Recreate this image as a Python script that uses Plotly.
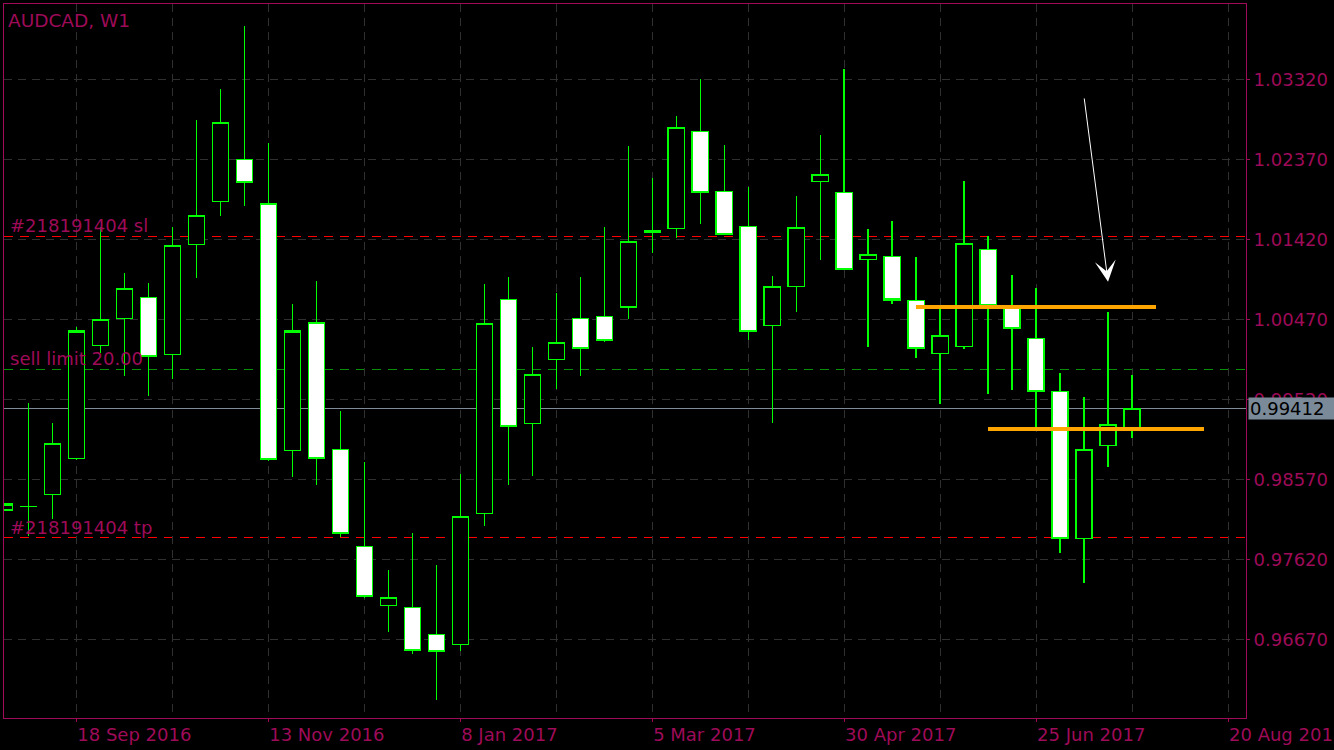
import plotly.graph_objects as go
import pandas as pd

# ---------------- data ----------------
chart_title = "AUDCAD, W1"
week_start = "2016-08-28"
n_weeks = 48
dates = pd.date_range(week_start, periods=n_weeks, freq="7D")

open_ = [0.98205, 0.98245, 0.98392, 0.98815, 1.00157, 1.00477, 1.00731, 1.00054,
         1.01361, 1.01871, 1.02370, 1.01839, 0.98910, 1.00426, 0.98926, 0.97774,
         0.97074, 0.97050, 0.96729, 0.96611, 0.98166, 1.00708, 0.99235, 0.99995,
         1.00482, 1.00506, 1.00616, 1.01503, 1.01551, 1.02703, 1.01990, 1.01574,
         1.00399, 1.00862, 1.02109, 1.01978, 1.01183, 1.01218, 1.00696, 1.00066,
         1.00145, 1.01301, 1.00604, 1.00240, 0.99615, 0.97869, 0.98974, 0.99167]
high = [0.98289, 0.99473, 0.99239, 1.00375, 1.01566, 1.01016, 1.00898, 1.01563,
        1.02837, 1.03205, 1.03953, 1.02560, 1.00652, 1.00925, 0.99381, 0.98775,
        0.97493, 0.97932, 0.97552, 0.98633, 1.00889, 1.00972, 1.00141, 1.00782,
        1.00972, 1.01563, 1.02528, 1.02148, 1.02884, 1.03324, 1.02540, 1.02041,
        1.00984, 1.01934, 1.02659, 1.03442, 1.01542, 1.01637, 1.01210, 1.00640,
        1.02112, 1.01459, 1.00993, 1.00842, 0.99832, 0.99547, 1.00553, 0.99809]
low = [0.98194, 0.97900, 0.98099, 0.98799, 1.00073, 0.99800, 0.99563, 0.99758,
       1.00964, 1.01700, 1.01819, 0.98787, 0.98601, 0.98502, 0.97881, 0.97164,
       0.96760, 0.96499, 0.95953, 0.96535, 0.98019, 0.98506, 0.98613, 0.99639,
       0.99800, 1.00206, 1.00477, 1.01261, 1.01439, 1.01605, 1.01471, 1.00228,
       0.99242, 1.00560, 1.01178, 1.01055, 1.00145, 1.00655, 1.00014, 0.99464,
       1.00117, 0.99587, 0.99634, 0.99167, 0.97698, 0.97342, 0.98720, 0.99064]
close = [0.98277, 0.98246, 0.98998, 1.00331, 1.00470, 1.00838, 1.00026, 1.01344,
         1.01705, 1.02809, 1.02097, 0.98803, 1.00331, 0.98815, 0.97924, 0.97181,
         0.97169, 0.96539, 0.96528, 0.98131, 1.00423, 0.99199, 0.99817, 1.00197,
         1.00126, 1.00221, 1.01396, 1.01527, 1.02750, 1.01978, 1.01479, 1.00328,
         1.00862, 1.01563, 1.02192, 1.01064, 1.01242, 1.00699, 1.00126, 1.00280,
         1.01373, 1.00634, 1.00358, 0.99615, 0.97869, 0.98926, 0.99223, 0.99412]

x_tick_vals = ["2016-09-18", "2016-11-13", "2017-01-08", "2017-03-05",
               "2017-04-30", "2017-06-25", "2017-08-20"]
x_tick_text = ["18 Sep 2016", "13 Nov 2016", "8 Jan 2017", "5 Mar 2017",
               "30 Apr 2017", "25 Jun 2017", "20 Aug 2017"]
y_tick_vals = [0.96670, 0.97620, 0.98570, 0.99520, 1.00470, 1.01420, 1.02370, 1.03320]

x_range = ["2016-08-27 22:00", "2017-08-25 06:00"]
y_range = [0.957354, 1.042142]

sl_level = 1.01456
tp_level = 0.97877
sell_limit_level = 0.99876
bid_level = 0.99412
sl_label = "#218191404 sl"
tp_label = "#218191404 tp"
sell_limit_label = "sell limit 20.00"

orange_levels = [1.00616, 0.99171]
orange_starts = ["2017-05-21", "2017-06-11"]
orange_ends = ["2017-07-30", "2017-08-13"]

arrow_tail = ("2017-07-09", 1.03110)
arrow_tip = ("2017-07-16", 1.00917)

# ---------------- style ----------------
CRIMSON = "#9E0B58"
GRID = "#303030"
GREEN = "#00FF00"
FONT = "DejaVu Sans"

fig = go.Figure(go.Candlestick(
    x=dates, open=open_, high=high, low=low, close=close,
    increasing=dict(line=dict(color=GREEN, width=1.2), fillcolor="#000000"),
    decreasing=dict(line=dict(color=GREEN, width=1.2), fillcolor="#FFFFFF"),
    whiskerwidth=0, hoverinfo="skip", showlegend=False,
))

fig.update_layout(
    width=1334, height=750,
    margin=dict(l=4, r=88, t=4, b=32),
    paper_bgcolor="#000000", plot_bgcolor="#000000",
    boxgap=0.33, boxgroupgap=0, showlegend=False, hovermode=False,
    font=dict(family=FONT, size=18, color=CRIMSON),
)

fig.update_xaxes(
    type="date", range=x_range, rangeslider_visible=False,
    tickmode="array", tickvals=x_tick_vals, ticktext=x_tick_text,
    ticks="outside", ticklen=3, tickcolor=CRIMSON, tickwidth=1,
    ticklabelposition="outside right", ticklabeloverflow="allow",
    tickfont=dict(family=FONT, size=18, color=CRIMSON),
    showline=True, linecolor=CRIMSON, linewidth=1, mirror=True,
    showgrid=True, gridcolor=GRID, gridwidth=1, griddash="8px,6px",
    minor=dict(tickmode="linear", tick0="2016-08-21", dtick=28 * 86400000,
               showgrid=True, gridcolor=GRID, gridwidth=1, griddash="8px,6px", ticks=""),
    zeroline=False, automargin=False, fixedrange=True,
)

fig.update_yaxes(
    side="right", range=y_range,
    tickmode="array", tickvals=y_tick_vals, tickformat=".5f",
    ticks="outside", ticklen=3, tickcolor=CRIMSON, tickwidth=1,
    tickfont=dict(family=FONT, size=18, color=CRIMSON),
    showline=True, linecolor=CRIMSON, linewidth=1, mirror=True,
    showgrid=True, gridcolor=GRID, gridwidth=1, griddash="8px,6px",
    zeroline=False, automargin=False, fixedrange=True,
)

# horizontal order / price lines (under candles)
def hline(level, color, dash, width=1.0):
    fig.add_shape(type="line", xref="paper", x0=0, x1=1, yref="y", y0=level, y1=level,
                  line=dict(color=color, width=width, dash=dash), layer="between")

hline(sl_level, "#FF0000", "9px,7px", 1.3)
hline(tp_level, "#FF0000", "9px,7px", 1.3)
hline(sell_limit_level, "#0A8F0A", "9px,7px", 1.2)
hline(bid_level, "#7F8B97", "solid")

# orange drawn levels (above candles)
for lvl, x0, x1 in zip(orange_levels, orange_starts, orange_ends):
    fig.add_shape(type="line", xref="x", x0=x0, x1=x1, yref="y", y0=lvl, y1=lvl,
                  line=dict(color="#FFA500", width=4), layer="above")

# labels
fig.add_annotation(text=chart_title, xref="paper", yref="paper", x=0, y=1,
                   xanchor="left", yanchor="top", xshift=2, yshift=-4,
                   showarrow=False, font=dict(family=FONT, size=18.5, color=CRIMSON))
for txt, lvl in [(sl_label, sl_level), (tp_label, tp_level), (sell_limit_label, sell_limit_level)]:
    fig.add_annotation(text=txt, xref="paper", yref="y", x=0, y=lvl,
                       xanchor="left", yanchor="bottom", xshift=4, yshift=-2,
                       showarrow=False, font=dict(family=FONT, size=18, color=CRIMSON))

# bid price box
fig.add_annotation(text=f"{bid_level:.5f}", xref="paper", yref="y", x=1, y=bid_level,
                   xanchor="left", yanchor="middle", xshift=2, showarrow=False,
                   bgcolor="#7A8A99", borderpad=1, width=84, height=19, align="left",
                   font=dict(family=FONT, size=18, color="#000000"))

# white arrow
fig.add_annotation(x=arrow_tip[0], y=arrow_tip[1], ax=arrow_tail[0], ay=arrow_tail[1],
                   xref="x", yref="y", axref="x", ayref="y", text="",
                   showarrow=True, arrowhead=3, arrowsize=3.5, arrowwidth=1,
                   arrowcolor="#FFFFFF")

crisp_js = (
    "document.body.style.margin='0px';"
    "document.querySelectorAll('.boxlayer path, .shapelayer path').forEach("
    "function(p){p.style.shapeRendering='crispEdges';});"
)
fig.write_html("out.html", config={"displayModeBar": False}, post_script=crisp_js)
